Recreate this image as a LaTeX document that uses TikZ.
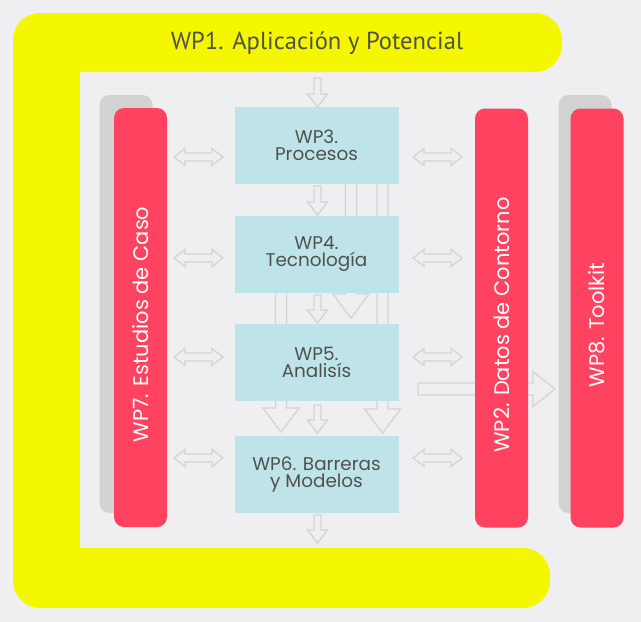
\documentclass[tikz,border=0pt]{standalone}
\usepackage{fontspec}
\setmainfont{Poppins}
\newfontfamily\titlefont{PT Sans}
\definecolor{bgc}{HTML}{EFEFF1}
\definecolor{ylw}{HTML}{F5F700}
\definecolor{pnk}{HTML}{FF4260}
\definecolor{shd}{HTML}{D2D2D0}
\definecolor{bluebox}{HTML}{BEE4EA}
\definecolor{arrc}{HTML}{D4D4D4}
\definecolor{txt}{HTML}{505050}
\newcommand\vdarr[6]{\filldraw[blk] (#1-#4,#2) -- (#1+#4,#2) -- (#1+#4,#3-#6) -- (#1+#5,#3-#6) -- (#1,#3) -- (#1-#5,#3-#6) -- (#1-#4,#3-#6) -- cycle;}
\newcommand\hdarr[3]{\filldraw[blk] (#1,#3) -- (#1+11,#3-8.5) -- (#1+11,#3-4) -- (#2-11,#3-4) -- (#2-11,#3-8.5) -- (#2,#3) -- (#2-11,#3+8.5) -- (#2-11,#3+4) -- (#1+11,#3+4) -- (#1+11,#3+8.5) -- cycle;}
\begin{document}
\begin{tikzpicture}[x=1pt,y=-1pt,
 wpbox/.style={fill=bluebox, minimum width=164pt, minimum height=77pt, inner sep=0pt, align=center, text=txt, font=\fontsize{18.4}{17}\selectfont},
 wpbar/.style={fill=pnk, rounded corners=10pt, minimum width=419pt, minimum height=53pt, rotate=90, text=white, font=\fontsize{21}{21}\selectfont, inner sep=0pt},
 shadowbar/.style={fill=shd, rounded corners=10pt, minimum width=53pt, minimum height=418pt, inner sep=0pt},
 blk/.style={draw=arrc, fill=bgc, line width=1.3pt, line join=miter}]
\useasboundingbox (0,0) rectangle (641,622);
\fill[bgc] (0,0) rectangle (641,622);
% yellow frame WP1
\fill[ylw, rounded corners=27pt] (13,13) rectangle (562,72);
\fill[ylw, rounded corners=27pt] (13,548) rectangle (550,608);
\fill[ylw] (13,40) rectangle (80,581);
\node[font=\titlefont\fontsize{24.6}{24.6}\selectfont, text=txt] (wp1) at (317,43) {WP1. Aplicación y Potencial};
% shadows
\node[shadowbar] (s7) at (126,304) {};
\node[shadowbar] (s8) at (585,304) {};
% big arrows behind boxes
\vdarr{351}{183}{318}{5.5}{18}{24}
\vdarr{281}{292}{432}{5.5}{18}{24}
\vdarr{382.5}{183}{433}{5.5}{18}{24}
\filldraw[blk] (418,383) -- (533,383) -- (533,371.5) -- (555,389) -- (533,406.5) -- (533,395) -- (418,395) -- cycle;
% bars
\node[wpbar] (wp7) at (140.5,317.5) {WP7. Estudios de Caso\kern14pt};
\node[wpbar] (wp2) at (501.5,318) {WP2. Datos de Contorno\kern14pt};
\node[wpbar] (wp8) at (597,318) {WP8. Toolkit\kern14pt};
% boxes
\node[wpbox] (wp3) at (316.5,145) {WP3.\\Procesos};
\node[wpbox] (wp4) at (316.5,254) {WP4.\\Tecnología};
\node[wpbox] (wp5) at (316.5,362.5) {WP5.\\Analisís};
\node[wpbox] (wp6) at (316.5,474.5) {WP6. Barreras\\y Modelos};
% small arrows
\vdarr{317.5}{78}{107}{3.5}{10}{13}
\vdarr{317.5}{186}{215}{3.5}{10}{13}
\vdarr{317.5}{295}{323}{3.5}{10}{13}
\vdarr{317.5}{405}{433}{3.5}{10}{13}
\vdarr{317.5}{515}{543}{3.5}{10}{13}
% double arrows
\foreach \yy in {157,258,357,458} {
  \hdarr{174}{223}{\yy}
  \hdarr{413}{462}{\yy}
}
\end{tikzpicture}
\end{document}
